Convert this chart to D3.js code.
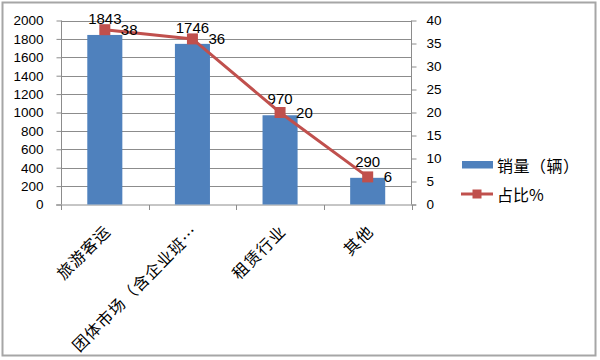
<!DOCTYPE html>
<html><head><meta charset="utf-8">
<script src="https://cdn.jsdelivr.net/npm/d3@7"></script>
<style>body{margin:0;background:#fff}svg{display:block}</style>
</head><body>
<svg id="c" width="600" height="360"></svg>
<script>
const categories = ["旅游客运", "团体市场（含企业班⋯", "租赁行业", "其他"];
const sales = [1843, 1746, 970, 290];
const share = [38, 36, 20, 6];
const leftTicks = [0, 200, 400, 600, 800, 1000, 1200, 1400, 1600, 1800, 2000];
const rightTicks = [0, 5, 10, 15, 20, 25, 30, 35, 40];
const seriesNames = ["销量（辆）", "占比%"];

const svg = d3.select("#c");
const numFont = "'Liberation Sans', Arial, sans-serif";
const cjkFont = "'Noto Sans CJK SC', sans-serif";
const gridColor = "#8c8c8c";

svg.append("rect").attr("x", 2.5).attr("y", 2.5).attr("width", 593).attr("height", 353)
  .attr("fill", "#fff").attr("stroke", "#a6a6a6").attr("stroke-width", 2);

const x = d3.scaleBand().domain(categories).range([61, 411.5]).padding(0);
const yL = d3.scaleLinear().domain([0, 2000]).range([204.5, 20.5]);
const yR = d3.scaleLinear().domain([0, 40]).range([204.5, 20.5]);

// gridlines
svg.append("g").selectAll("line").data(leftTicks.filter(d => d > 0)).join("line")
  .attr("x1", 61).attr("x2", 411.5)
  .attr("y1", d => Math.round(yL(d)) + 0.5).attr("y2", d => Math.round(yL(d)) + 0.5)
  .attr("stroke", gridColor).attr("stroke-width", 1);

// left axis
const gL = svg.append("g").attr("transform", "translate(61.5,0)")
  .call(d3.axisLeft(yL).tickValues(leftTicks).tickSize(5).tickPadding(13).tickFormat(d3.format("d")));
gL.select(".domain").attr("stroke", gridColor).attr("d", `M0,${yL(2000)}V${yL(0)}`);
gL.selectAll(".tick line").attr("stroke", gridColor);
gL.selectAll("text").attr("font-family", numFont).attr("font-size", 13.5).attr("fill", "#000");

// right axis
const gR = svg.append("g").attr("transform", "translate(411.5,0)")
  .call(d3.axisRight(yR).tickValues(rightTicks).tickSize(5).tickPadding(10));
gR.select(".domain").attr("stroke", gridColor).attr("d", `M0,${yR(40)}V${yR(0)}`);
gR.selectAll(".tick line").attr("stroke", gridColor);
gR.selectAll("text").attr("font-family", numFont).attr("font-size", 13.5).attr("fill", "#000");

// bottom axis
const gB = svg.append("g").attr("transform", `translate(0,${yL(0) + 0.5})`);
gB.append("line").attr("x1", 56).attr("x2", 416).attr("y1", 0).attr("y2", 0).attr("stroke", gridColor);
const bTicks = categories.map(c => x(c)).concat([x(categories[3]) + x.bandwidth()]);
gB.selectAll("line.t").data(bTicks).join("line").attr("class", "t")
  .attr("x1", d => Math.round(d) + 0.5).attr("x2", d => Math.round(d) + 0.5)
  .attr("y1", 0).attr("y2", 5).attr("stroke", gridColor);

// category labels
svg.append("g").selectAll("text").data(categories).join("text")
  .attr("transform", c => `translate(${x(c) + x.bandwidth() / 2 + 2},${yL(0) + 23}) rotate(-45)`)
  .attr("text-anchor", "end").attr("dominant-baseline", "central")
  .attr("letter-spacing", 1)
  .attr("font-family", cjkFont).attr("font-size", 16).attr("fill", "#000")
  .text(c => c);

// bars
const bw = x.bandwidth() * 0.4;
svg.append("g").selectAll("rect").data(sales).join("rect")
  .attr("x", (d, i) => x(categories[i]) + (x.bandwidth() - bw) / 2)
  .attr("y", d => yL(d)).attr("width", bw).attr("height", d => yL(0) - yL(d))
  .attr("fill", "#4f81bd");

// bar labels
svg.append("g").selectAll("text").data(sales).join("text")
  .attr("x", (d, i) => x(categories[i]) + x.bandwidth() / 2)
  .attr("y", d => yL(d) - 11)
  .attr("text-anchor", "middle").attr("font-family", numFont).attr("font-size", 15).attr("fill", "#000")
  .text(d => d);

// line
const cx = i => x(categories[i]) + x.bandwidth() / 2;
svg.append("path").datum(share)
  .attr("d", d3.line().x((d, i) => cx(i)).y(d => yR(d)))
  .attr("fill", "none").attr("stroke", "#c0504d").attr("stroke-width", 3);
svg.append("g").selectAll("rect").data(share).join("rect")
  .attr("x", (d, i) => cx(i) - 5.5).attr("y", d => yR(d) - 5.5)
  .attr("width", 11).attr("height", 11).attr("fill", "#c0504d");
svg.append("g").selectAll("text").data(share).join("text")
  .attr("x", (d, i) => cx(i) + 16).attr("y", d => yR(d) + 5.5)
  .attr("font-family", numFont).attr("font-size", 15).attr("fill", "#000")
  .text(d => d);

// legend
const lg = svg.append("g");
lg.append("rect").attr("x", 462).attr("y", 161).attr("width", 31).attr("height", 7.5).attr("fill", "#4f81bd");
lg.append("text").attr("x", 497).attr("y", 165).attr("dominant-baseline", "central")
  .attr("font-family", cjkFont).attr("font-size", 16).attr("letter-spacing", 0.5).text(seriesNames[0]);
lg.append("line").attr("x1", 461).attr("x2", 493).attr("y1", 194).attr("y2", 194)
  .attr("stroke", "#c0504d").attr("stroke-width", 3);
lg.append("rect").attr("x", 472.5).attr("y", 189.5).attr("width", 9).attr("height", 9).attr("fill", "#c0504d");
lg.append("text").attr("x", 497).attr("y", 194).attr("dominant-baseline", "central")
  .attr("font-family", cjkFont).attr("font-size", 16).text(seriesNames[1]);
</script>
</body></html>
